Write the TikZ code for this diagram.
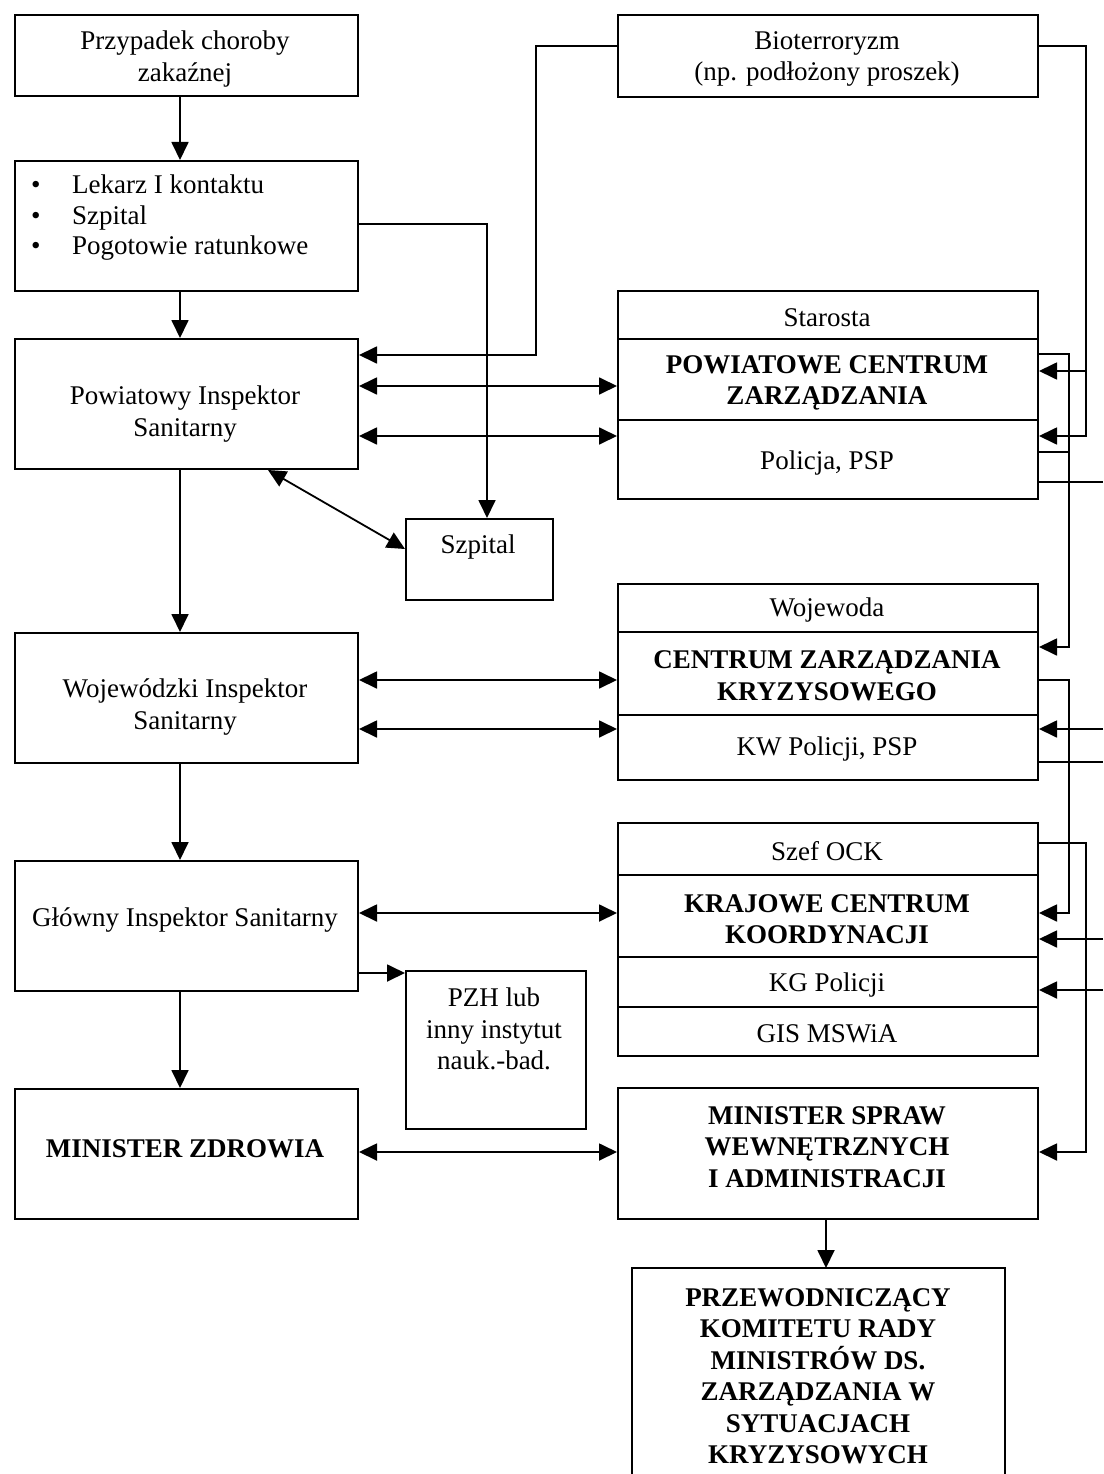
\documentclass[tikz,border=0pt]{standalone}
\usepackage{fontspec}
\setmainfont{Liberation Serif}
\usetikzlibrary{arrows.meta}
\begin{document}
\begin{tikzpicture}[x=1pt,y=-1pt,
 box/.style={draw, line width=2pt, inner sep=0pt, anchor=north west},
 sepline/.style={line width=2pt},
 txt/.style={align=center, inner sep=0pt, yshift=-3pt, font=\fontsize{27}{31.5}\selectfont},
 btxt/.style={align=center, inner sep=0pt, yshift=-3pt, font=\fontsize{27}{31.5}\selectfont\bfseries},
 con/.style={line width=1.8pt},
 arr/.style={con, -{Triangle[length=18pt,width=17pt]}},
 barr/.style={con, {Triangle[length=18pt,width=17pt]}-{Triangle[length=18pt,width=17pt]}},
]
\useasboundingbox (0,0) rectangle (1103,1474);

% ---------- left column boxes ----------
\node[box, minimum width=343pt, minimum height=81pt]  (przyp) at (14,14) {};
\node[box, minimum width=343pt, minimum height=130pt] (lek)   at (14,160) {};
\node[box, minimum width=343pt, minimum height=130pt] (pis)   at (14,338) {};
\node[box, minimum width=147pt, minimum height=81pt]  (szp)   at (405,518) {};
\node[box, minimum width=343pt, minimum height=130pt] (wis)   at (14,632) {};
\node[box, minimum width=343pt, minimum height=130pt] (gis)   at (14,860) {};
\node[box, minimum width=180pt, minimum height=158pt] (pzh)   at (405,970) {};
\node[box, minimum width=343pt, minimum height=130pt] (mz)    at (14,1088) {};

% ---------- right column boxes ----------
\node[box, minimum width=420pt, minimum height=82pt]  (bio) at (617,14) {};
\node[box, minimum width=420pt, minimum height=208pt] (pcz) at (617,290) {};
\node[box, minimum width=420pt, minimum height=196pt] (czk) at (617,583) {};
\node[box, minimum width=420pt, minimum height=233pt] (kck) at (617,822) {};
\node[box, minimum width=420pt, minimum height=131pt] (msw) at (617,1087) {};
\node[inner sep=0pt, anchor=north west, minimum width=373pt, minimum height=215pt] (prz) at (632,1268) {};
\draw[sepline] (prz.south west) -- (prz.north west) -- (prz.north east) -- (prz.south east);

% separators
\coordinate (s1) at (0,339);  \coordinate (s2) at (0,420);
\coordinate (s3) at (0,632);  \coordinate (s4) at (0,715);
\coordinate (s5) at (0,875);  \coordinate (s6) at (0,957); \coordinate (s7) at (0,1007);
\draw[sepline] (pcz.west |- s1) -- (pcz.east |- s1);
\draw[sepline] (pcz.west |- s2) -- (pcz.east |- s2);
\draw[sepline] (czk.west |- s3) -- (czk.east |- s3);
\draw[sepline] (czk.west |- s4) -- (czk.east |- s4);
\draw[sepline] (kck.west |- s5) -- (kck.east |- s5);
\draw[sepline] (kck.west |- s6) -- (kck.east |- s6);
\draw[sepline] (kck.west |- s7) -- (kck.east |- s7);

% ---------- texts ----------
\node[txt] (przypT) at (185,56) {Przypadek choroby\\zakaźnej};
\node[txt, anchor=west, align=left, font=\fontsize{27}{30.5}\selectfont] (lekT) at (31,215)
  {\makebox[41pt][l]{\textbullet}Lekarz I kontaktu\\
   \makebox[41pt][l]{\textbullet}Szpital\\
   \makebox[41pt][l]{\textbullet}Pogotowie ratunkowe};
\node[txt] (pisT) at (185,411) {Powiatowy Inspektor\\Sanitarny};
\node[txt] (szpT) at (478,544) {Szpital};
\node[txt] (wisT) at (185,704) {Wojewódzki Inspektor\\Sanitarny};
\node[txt] (gisT) at (185,917) {Główny Inspektor Sanitarny};
\node[txt] (pzhT) at (494,1026) {PZH lub\\inny instytut\\nauk.-bad.};
\node[btxt] (mzT) at (185,1146) {MINISTER ZDROWIA};

\node[txt] (bioT) at (827,56) {Bioterroryzm\\(np. podłożony proszek)};
\node[txt] (pczA) at (827,315) {Starosta};
\node[btxt] (pczB) at (827,380) {POWIATOWE CENTRUM\\ZARZĄDZANIA};
\node[txt] (pczC) at (827,460) {Policja, PSP};
\node[txt] (czkA) at (827,607) {Wojewoda};
\node[btxt] (czkB) at (827,673) {CENTRUM ZARZĄDZANIA\\KRYZYSOWEGO};
\node[txt] (czkC) at (827,746) {KW Policji, PSP};
\node[txt] (kckA) at (827,848) {Szef OCK};
\node[btxt] (kckB) at (827,916) {KRAJOWE CENTRUM\\KOORDYNACJI};
\node[txt] (kckC) at (827,982) {KG Policji};
\node[txt] (kckD) at (827,1031) {GIS MSWiA};
\node[btxt] (mswT) at (827,1144) {MINISTER SPRAW\\WEWNĘTRZNYCH\\I ADMINISTRACJI};
\node[btxt] (przT) at (818,1373) {PRZEWODNICZĄCY\\KOMITETU RADY\\MINISTRÓW DS.\\ZARZĄDZANIA W\\SYTUACJACH\\KRYZYSOWYCH};

% ---------- helper coordinates ----------
\coordinate (vx) at (180,0);
\coordinate (vx2) at (826,0);
\coordinate (ya) at (0,371);
\coordinate (yb) at (0,436);
\coordinate (y386) at (0,386);
\coordinate (yc) at (0,452);
\coordinate (yd) at (0,647);
\coordinate (ye) at (0,913);
\coordinate (yf) at (0,1152);
\coordinate (yg) at (0,355);
\coordinate (yh) at (0,973);
\coordinate (b1) at (1086,46);
\coordinate (c1) at (1069,354);
\coordinate (c2) at (1069,680);
\coordinate (c3) at (1086,843);
\coordinate (c4) at (536,46);
\coordinate (c5) at (487,224);
\coordinate (d1) at (268,468);
\coordinate (d2) at (405,549);
\coordinate (o1) at (1103,482);
\coordinate (o2) at (1103,729);
\coordinate (o3) at (1103,762);
\coordinate (o4) at (1103,939);
\coordinate (o5) at (1103,990);

% ---------- vertical flow (left) ----------
\draw[arr] (przyp.south -| vx) -- (lek.north -| vx);
\draw[arr] (lek.south -| vx) -- (pis.north -| vx);
\draw[arr] (pis.south -| vx) -- (wis.north -| vx);
\draw[arr] (wis.south -| vx) -- (gis.north -| vx);
\draw[arr] (gis.south -| vx) -- (mz.north -| vx);
\draw[arr] (msw.south -| vx2) -- (prz.north -| vx2);

% ---------- horizontal two-way links ----------
\draw[barr] (pis.east |- y386) -- (pcz.west |- y386);
\draw[barr] (pis.east |- yb) -- (pcz.west |- yb);
\draw[barr] (wis.east |- c2) -- (czk.west |- c2);
\draw[barr] (wis.east |- o2) -- (czk.west |- o2);
\draw[barr] (gis.east |- ye) -- (kck.west |- ye);
\draw[barr] (mz.east |- yf) -- (msw.west |- yf);

% ---------- other links ----------
\draw[arr] (gis.east |- yh) -- (pzh.west |- yh);
\draw[barr] (pis.south -| d1) -- (szp.west |- d2);
\draw[arr] (lek.east |- c5) -| (szp.north -| c5);
\draw[arr] (bio.west |- c4) -- (c4) |- (pis.east |- yg);

% ---------- right side routing ----------
\draw[arr] (bio.east |- b1) -- (b1) |- (pcz.east |- yb);
\draw[arr] (b1 |- ya) -- (pcz.east |- ya);
\draw[arr] (pcz.east |- c1) -- (c1) |- (czk.east |- yd);
\draw[con] (pcz.east |- yc) -- (c1 |- yc);
\draw[con] (pcz.east |- o1) -- (o1);
\draw[arr] (czk.east |- c2) -- (c2) |- (kck.east |- ye);
\draw[arr] (o2) -- (czk.east |- o2);
\draw[con] (czk.east |- o3) -- (o3);
\draw[arr] (kck.east |- c3) -- (c3) |- (msw.east |- yf);
\draw[arr] (o4) -- (kck.east |- o4);
\draw[arr] (o5) -- (kck.east |- o5);
\end{tikzpicture}
\end{document}
